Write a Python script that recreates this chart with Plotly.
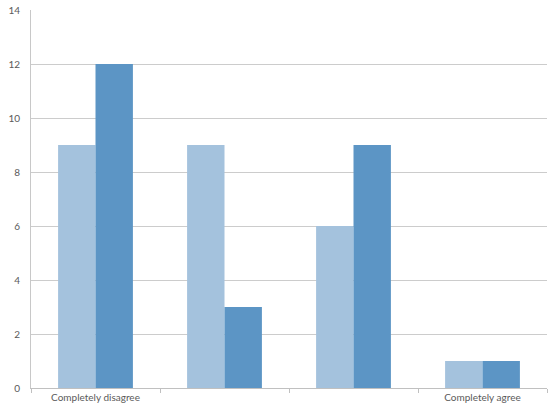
import plotly.graph_objects as go

categories = ["Completely disagree", "2", "3", "Completely agree"]
tick_labels = ["Completely disagree", "", "", "Completely agree"]
series_a = [9, 9, 6, 1]
series_b = [12, 3, 9, 1]
y_ticks = [0, 2, 4, 6, 8, 10, 12, 14]

fig = go.Figure()
fig.add_trace(go.Bar(x=categories, y=series_a, marker=dict(color="#a4c2dd", line=dict(width=0)), name="A"))
fig.add_trace(go.Bar(x=categories, y=series_b, marker=dict(color="#5c95c5", line=dict(width=0)), name="B"))

fig.update_layout(
    width=560, height=410,
    margin=dict(l=31, r=13, t=10, b=22),
    paper_bgcolor="white", plot_bgcolor="white",
    barmode="group", bargap=0.42, bargroupgap=0,
    showlegend=False,
    font=dict(family="Lato, Open Sans, sans-serif", size=10, color="#5a5a5a"),
)
fig.update_xaxes(
    tickmode="array", tickvals=categories, ticktext=tick_labels,
    tickson="boundaries", ticks="outside", ticklen=4, tickcolor="#c0c0c0",
    showline=True, linecolor="#c0c0c0", linewidth=1, showgrid=False,
    automargin=False,
)
fig.update_yaxes(
    range=[0, 14], tickvals=y_ticks, showgrid=True, gridcolor="#cccccc", gridwidth=1,
    showline=True, linecolor="#c8c8c8", linewidth=1, zeroline=False,
    ticks="", ticklabelstandoff=8, automargin=False,
)
fig.write_html("out.html", config={"displayModeBar": False},
               post_script="document.body.style.margin='0px';")
